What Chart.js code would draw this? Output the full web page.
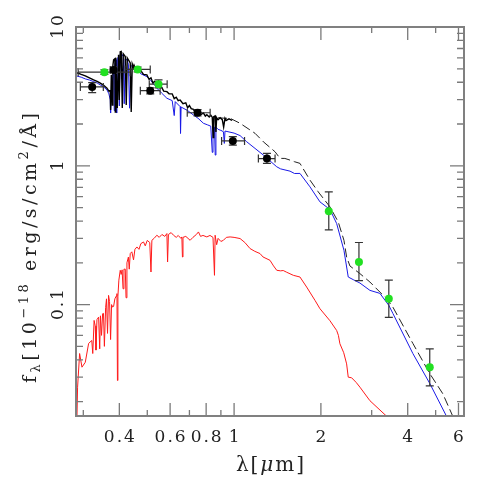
<!DOCTYPE html>
<html>
<head>
<meta charset="utf-8">
<script src="https://cdn.jsdelivr.net/npm/chart.js@4.4.1/dist/chart.umd.min.js"></script>
<style>
  html, body { margin: 0; padding: 0; background: #fff; }
</style>
</head>
<body>
<canvas id="sedChart" width="491" height="491"></canvas>
<script>
// --- data (wavelength in micron, flux in 1e-18 erg/s/cm2/A) ---

// black high-res spectrum
const specLam = [0.2838, 0.2950, 0.3048, 0.3150, 0.3257, 0.3350, 0.3436, 0.3530, 0.3624, 0.3680, 0.3721, 0.3730, 0.3751, 0.3781, 0.3800, 0.3821, 0.3860, 0.3873, 0.3890, 0.3935, 0.3975, 0.3998, 0.4029, 0.4061, 0.4095, 0.4127, 0.4194, 0.4227, 0.4261, 0.4364, 0.4398, 0.4434, 0.4480, 0.4500, 0.4550, 0.4603, 0.4680, 0.4750, 0.4850, 0.4984, 0.5070, 0.5150, 0.5230, 0.5300, 0.5398, 0.5500, 0.5600, 0.5700, 0.5848, 0.5950, 0.6100, 0.6200, 0.6300, 0.6400, 0.6501, 0.6650, 0.6800, 0.6900, 0.7000, 0.7100, 0.7228, 0.7350, 0.7500, 0.7650, 0.7829, 0.7950, 0.8045, 0.8200, 0.8300, 0.8400, 0.8460, 0.8500, 0.8594, 0.8650, 0.8700, 0.8800, 0.8944, 0.9100, 0.9200, 0.9300, 0.9382, 0.9600, 0.9845];
const specFlux = [4.695, 4.55, 4.443, 4.30, 4.157, 4.05, 3.935, 3.80, 3.622, 3.45, 3.521, 2.525, 4.518, 2.744, 5.30, 5.798, 5.90, 2.443, 6.00, 2.61, 6.30, 2.98, 6.62, 6.655, 2.61, 6.405, 6.124, 2.744, 5.993, 5.514, 2.443, 5.424, 5.10, 5.30, 5.00, 5.049, 4.75, 4.85, 4.55, 4.518, 4.20, 4.30, 3.95, 4.05, 3.935, 3.70, 3.70, 3.45, 3.421, 3.30, 3.30, 3.05, 3.12, 2.95, 2.981, 2.80, 2.84, 2.62, 2.72, 2.58, 2.55, 2.40, 2.47, 2.33, 2.40, 2.28, 2.33, 2.25, 2.32, 2.24, 1.60, 2.26, 2.29, 1.75, 2.22, 2.15, 2.22, 2.15, 1.90, 2.20, 2.12, 2.18, 2.12];

// dashed total model
const totalLam = [0.88, 0.93, 0.9685, 1.049, 1.182, 1.263, 1.387, 1.443, 1.50, 1.563, 1.62, 1.692, 1.833, 1.958, 2.150, 2.297, 2.404, 2.456, 2.522, 2.732, 2.958, 3.203, 3.379, 3.553, 4.168, 4.772, 5.293, 5.732, 5.90];
const totalFlux = [2.22, 2.20, 2.199, 2.024, 1.714, 1.490, 1.262, 1.131, 1.13, 1.099, 1.07, 1.041, 0.7886, 0.6491, 0.5058, 0.3941, 0.2906, 0.2203, 0.1897, 0.1671, 0.1454, 0.1231, 0.1103, 0.0959, 0.0525, 0.0318, 0.0228, 0.0157, 0.0136];

// blue component
const blueLam = [0.2838, 0.2950, 0.3048, 0.3150, 0.3257, 0.3350, 0.3436, 0.3530, 0.3624, 0.3680, 0.3721, 0.3730, 0.3745, 0.3790, 0.3821, 0.3840, 0.3860, 0.3900, 0.3915, 0.3935, 0.3975, 0.4000, 0.4025, 0.4061, 0.4130, 0.4160, 0.4190, 0.4251, 0.4300, 0.4340, 0.4380, 0.4500, 0.4603, 0.4750, 0.4984, 0.5150, 0.5300, 0.5398, 0.5600, 0.5848, 0.6100, 0.6200, 0.6250, 0.6501, 0.6520, 0.6550, 0.6900, 0.7228, 0.7500, 0.7829, 0.8100, 0.8300, 0.8400, 0.8450, 0.8550, 0.8600, 0.8650, 0.8800, 0.9000, 0.9183, 0.9250, 0.9300, 1.000, 1.049, 1.106, 1.263, 1.406, 1.45, 1.563, 1.62, 1.692, 1.833, 1.985, 2.150, 2.268, 2.404, 2.488, 2.590, 2.732, 2.958, 3.203, 3.440, 3.553, 4.168, 4.772, 5.451, 5.650];
const blueFlux = [4.443, 4.35, 4.227, 4.15, 4.042, 3.95, 3.825, 3.70, 3.521, 3.30, 2.98, 2.40, 3.10, 4.20, 5.186, 2.50, 5.40, 5.80, 2.40, 5.90, 6.124, 2.70, 6.30, 6.48, 6.10, 2.80, 5.90, 5.798, 5.40, 2.60, 5.30, 5.05, 4.909, 4.60, 4.391, 4.10, 3.80, 3.622, 3.35, 3.066, 2.95, 2.30, 2.90, 2.667, 1.714, 2.65, 2.50, 2.323, 2.20, 2.024, 1.97, 1.93, 1.25, 1.92, 1.90, 1.195, 1.90, 1.83, 1.80, 1.760, 1.45, 1.78, 1.72, 1.65, 1.490, 1.195, 0.9835, 0.95, 0.915, 0.88, 0.8813, 0.7054, 0.5495, 0.4843, 0.3838, 0.2461, 0.1580, 0.1512, 0.1429, 0.1266, 0.1205, 0.0987, 0.0864, 0.0444, 0.0270, 0.0157, 0.0138];

// red component
const redLam = [0.2850, 0.2866, 0.2913, 0.2968, 0.3048, 0.3130, 0.3210, 0.3235, 0.3270, 0.3300, 0.3320, 0.3345, 0.3390, 0.3420, 0.3440, 0.3470, 0.3500, 0.3525, 0.3550, 0.3585, 0.3610, 0.3640, 0.3670, 0.3700, 0.3730, 0.3760, 0.3790, 0.3821, 0.3860, 0.3900, 0.3925, 0.3940, 0.3955, 0.3985, 0.4029, 0.4060, 0.4090, 0.4120, 0.4150, 0.4194, 0.4220, 0.4250, 0.4300, 0.4330, 0.4364, 0.4420, 0.4480, 0.4530, 0.4603, 0.4680, 0.4750, 0.4853, 0.4920, 0.5000, 0.5100, 0.5150, 0.5187, 0.5280, 0.5398, 0.5500, 0.5620, 0.5750, 0.5848, 0.5880, 0.5920, 0.6050, 0.6165, 0.6300, 0.6400, 0.6540, 0.6590, 0.6620, 0.6650, 0.6800, 0.7040, 0.7200, 0.7400, 0.7523, 0.7650, 0.7800, 0.8045, 0.8250, 0.8450, 0.8550, 0.8594, 0.8700, 0.8800, 0.9000, 0.9183, 0.9400, 0.9685, 1.000, 1.049, 1.090, 1.136, 1.180, 1.230, 1.260, 1.332, 1.370, 1.406, 1.450, 1.480, 1.522, 1.605, 1.692, 1.785, 1.908, 1.985, 2.150, 2.268, 2.300, 2.328, 2.400, 2.456, 2.488, 2.556, 2.650, 2.732, 2.958, 3.379, 3.530];
const redFlux = [0.0145, 0.0254, 0.0444, 0.0354, 0.0384, 0.0525, 0.0551, 0.0444, 0.0769, 0.0700, 0.0470, 0.0780, 0.0812, 0.0480, 0.0830, 0.0600, 0.0860, 0.0864, 0.0500, 0.0950, 0.1100, 0.0620, 0.1165, 0.1050, 0.0560, 0.1000, 0.0960, 0.0970, 0.1100, 0.1150, 0.1199, 0.0284, 0.1150, 0.1500, 0.1766, 0.1650, 0.1780, 0.1300, 0.1800, 0.1800, 0.1120, 0.2000, 0.2200, 0.1800, 0.2331, 0.2400, 0.2100, 0.2500, 0.2602, 0.2500, 0.2750, 0.2826, 0.2650, 0.2900, 0.2800, 0.1717, 0.2906, 0.3000, 0.3160, 0.3050, 0.3200, 0.3100, 0.3249, 0.2027, 0.3200, 0.3300, 0.3160, 0.3050, 0.3150, 0.3000, 0.3072, 0.2203, 0.3050, 0.3100, 0.2906, 0.3050, 0.3200, 0.3338, 0.3100, 0.3150, 0.3072, 0.3150, 0.3050, 0.1625, 0.3160, 0.2700, 0.3000, 0.2850, 0.2906, 0.3050, 0.3072, 0.3050, 0.2991, 0.2800, 0.2533, 0.2420, 0.2331, 0.2203, 0.2085, 0.1900, 0.1766, 0.1750, 0.1760, 0.1710, 0.1625, 0.1580, 0.1338, 0.1072, 0.0934, 0.0765, 0.0651, 0.0600, 0.0522, 0.0450, 0.0374, 0.0300, 0.0297, 0.0275, 0.0254, 0.0203, 0.0157, 0.0138];

// black photometry
const blackLam = [0.322, 0.382, 0.512, 0.747, 0.990, 1.300];
const blackFlux = [3.70, 4.91, 3.48, 2.41, 1.51, 1.127];
const blackLamLo = [0.293, 0.372, 0.473, 0.688, 0.905, 1.214];
const blackLamHi = [0.352, 0.392, 0.554, 0.826, 1.087, 1.387];
const blackFluxLo = [3.37, 4.70, 3.30, 2.29, 1.41, 1.04];
const blackFluxHi = [3.97, 5.13, 3.65, 2.54, 1.62, 1.23];

// green photometry
const greenLam = [0.355, 0.463, 0.547, 2.13, 2.71, 3.44, 4.77];
const greenFlux = [4.73, 4.95, 3.87, 0.471, 0.203, 0.110, 0.0354];
const greenLamLo = [0.288, 0.419, 0.508, 2.13, 2.71, 3.44, 4.77];
const greenLamHi = [0.436, 0.512, 0.586, 2.13, 2.71, 3.44, 4.77];
const greenFluxLo = [4.55, 4.75, 3.64, 0.345, 0.149, 0.081, 0.026];
const greenFluxHi = [4.92, 5.15, 4.16, 0.649, 0.280, 0.150, 0.048];

// axis ticks
const xMajorTicks = [0.4, 0.6, 0.8, 1, 2, 4, 6];
const xTickLabels = ['0.4', '0.6', '0.8', '1', '2', '4', '6'];
const xMinorTicks = [0.3, 0.5, 0.7, 0.9, 3, 5];
const yMajorTicks = [0.1, 1, 10];
const yTickLabels = ['0.1', '1', '10'];
const yMinorTicks = [0.02, 0.03, 0.04, 0.05, 0.06, 0.07, 0.08, 0.09, 0.2, 0.3, 0.4, 0.5, 0.6, 0.7, 0.8, 0.9, 2, 3, 4, 5, 6, 7, 8, 9];

const toPoints = (xs, ys) => xs.map((v, i) => ({ x: v, y: ys[i] }));

const serif = '"DejaVu Serif", "Liberation Serif", serif';

function spacedWidth(ctx, text, gap) {
  let w = 0;
  for (const ch of text) w += ctx.measureText(ch).width + gap;
  return w - gap;
}

function drawSpaced(ctx, text, x, y, gap) {
  for (const ch of text) {
    ctx.fillText(ch, x, y);
    x += ctx.measureText(ch).width + gap;
  }
  return x;
}

// draw a row of pieces [text, size, shift, style] centred on 0
function drawPieces(ctx, pieces, gap) {
  let total = 0;
  pieces.forEach(p => {
    ctx.font = (p[3] || '') + ' ' + p[1] + 'px ' + serif;
    total += spacedWidth(ctx, p[0], gap) + gap;
  });
  total -= gap;
  let x = -total / 2;
  pieces.forEach(p => {
    ctx.font = (p[3] || '') + ' ' + p[1] + 'px ' + serif;
    x = drawSpaced(ctx, p[0], x, p[2], gap);
  });
}

function drawErrorBars(chart) {
  const { ctx, chartArea: a, scales: { x, y } } = chart;
  const sets = [
    [blackLam, blackFlux, blackLamLo, blackLamHi, blackFluxLo, blackFluxHi],
    [greenLam, greenFlux, greenLamLo, greenLamHi, greenFluxLo, greenFluxHi]
  ];
  const cap = 4;
  ctx.save();
  ctx.beginPath();
  ctx.rect(a.left, a.top, a.right - a.left, a.bottom - a.top);
  ctx.clip();
  ctx.strokeStyle = '#333';
  ctx.lineWidth = 1.2;
  sets.forEach(s => {
    s[0].forEach((lam, i) => {
      const px = x.getPixelForValue(lam);
      const py = y.getPixelForValue(s[1][i]);
      const x0 = x.getPixelForValue(s[2][i]);
      const x1 = x.getPixelForValue(s[3][i]);
      const y0 = y.getPixelForValue(s[4][i]);
      const y1 = y.getPixelForValue(s[5][i]);
      ctx.beginPath();
      if (x1 - x0 > 1) {
        ctx.moveTo(x0, py); ctx.lineTo(x1, py);
        ctx.moveTo(x0, py - cap); ctx.lineTo(x0, py + cap);
        ctx.moveTo(x1, py - cap); ctx.lineTo(x1, py + cap);
      }
      ctx.moveTo(px, y0); ctx.lineTo(px, y1);
      ctx.moveTo(px - cap, y0); ctx.lineTo(px + cap, y0);
      ctx.moveTo(px - cap, y1); ctx.lineTo(px + cap, y1);
      ctx.stroke();
    });
  });
  ctx.restore();
}

const sedAxes = {
  id: 'sedAxes',
  afterDatasetDraw(chart, args) {
    if (args.index === 2) drawErrorBars(chart);
  },
  afterDraw(chart) {
    const { ctx, chartArea: a, scales: { x, y } } = chart;
    ctx.save();
    // ticks, inward on all four sides
    ctx.strokeStyle = '#7a7a7a';
    ctx.lineWidth = 1.3;
    ctx.beginPath();
    const xt = (v, len) => {
      const p = x.getPixelForValue(v);
      ctx.moveTo(p, a.bottom); ctx.lineTo(p, a.bottom - len);
      ctx.moveTo(p, a.top); ctx.lineTo(p, a.top + len);
    };
    const yt = (v, len) => {
      const p = y.getPixelForValue(v);
      ctx.moveTo(a.left, p); ctx.lineTo(a.left + len, p);
      ctx.moveTo(a.right, p); ctx.lineTo(a.right - len, p);
    };
    xMajorTicks.forEach(v => xt(v, 13));
    xMinorTicks.forEach(v => xt(v, 6));
    yMajorTicks.forEach(v => yt(v, 14));
    yMinorTicks.forEach(v => yt(v, 7));
    ctx.stroke();
    // frame
    ctx.lineWidth = 2;
    ctx.strokeStyle = '#808080';
    ctx.strokeRect(a.left, a.top, a.right - a.left, a.bottom - a.top);

    // tick labels
    ctx.fillStyle = '#222';
    ctx.textBaseline = 'alphabetic';
    ctx.textAlign = 'left';
    ctx.font = '17px ' + serif;
    xMajorTicks.forEach((v, i) => {
      const w = spacedWidth(ctx, xTickLabels[i], 2);
      drawSpaced(ctx, xTickLabels[i], x.getPixelForValue(v) - w / 2, 442, 2);
    });
    yMajorTicks.forEach((v, i) => {
      ctx.save();
      ctx.translate(63, y.getPixelForValue(v));
      ctx.rotate(-Math.PI / 2);
      const w = spacedWidth(ctx, yTickLabels[i], 2);
      drawSpaced(ctx, yTickLabels[i], -w / 2, 0, 2);
      ctx.restore();
    });

    // x title
    ctx.save();
    ctx.translate(270, 471);
    drawPieces(ctx, [['λ[', 20, 0], ['μ', 20, 0, 'italic'], ['m]', 20, 0]], 2);
    ctx.restore();

    // y title
    ctx.save();
    ctx.translate(36, 248);
    ctx.rotate(-Math.PI / 2);
    drawPieces(ctx, [
      ['f', 19, 0], ['λ', 13, 4], ['[10', 19, 0], ['−18', 13, -8],
      [' erg/s/cm', 19, 0], ['2', 13, -8], ['/Å]', 19, 0]
    ], 3.5);
    ctx.restore();
    ctx.restore();
  }
};

new Chart(document.getElementById('sedChart'), {
  type: 'scatter',
  data: {
    datasets: [
      { label: 'green photometry', data: toPoints(greenLam, greenFlux), pointRadius: 4, pointBackgroundColor: '#22e022', pointBorderWidth: 0 },
      { label: 'black photometry', data: toPoints(blackLam, blackFlux), pointRadius: 4, pointBackgroundColor: '#000', pointBorderWidth: 0 },
      { label: 'spectrum', data: toPoints(specLam, specFlux), showLine: true, pointRadius: 0, borderColor: '#000', borderWidth: 1.4 },
      { label: 'total', data: toPoints(totalLam, totalFlux), showLine: true, pointRadius: 0, borderColor: '#222', borderWidth: 1, borderDash: [9, 4] },
      { label: 'blue', data: toPoints(blueLam, blueFlux), showLine: true, pointRadius: 0, borderColor: '#1a1ae6', borderWidth: 1 },
      { label: 'red', data: toPoints(redLam, redFlux), showLine: true, pointRadius: 0, borderColor: '#ff1a1a', borderWidth: 1 }
    ]
  },
  options: {
    responsive: false,
    animation: false,
    layout: { padding: { left: 76, top: 27, right: 27, bottom: 75 } },
    plugins: { legend: { display: false }, tooltip: { enabled: false } },
    scales: {
      x: { type: 'logarithmic', min: 0.283, max: 6.27, display: false },
      y: { type: 'logarithmic', min: 0.01575, max: 10, display: false }
    }
  },
  plugins: [sedAxes]
});
</script>
</body>
</html>
